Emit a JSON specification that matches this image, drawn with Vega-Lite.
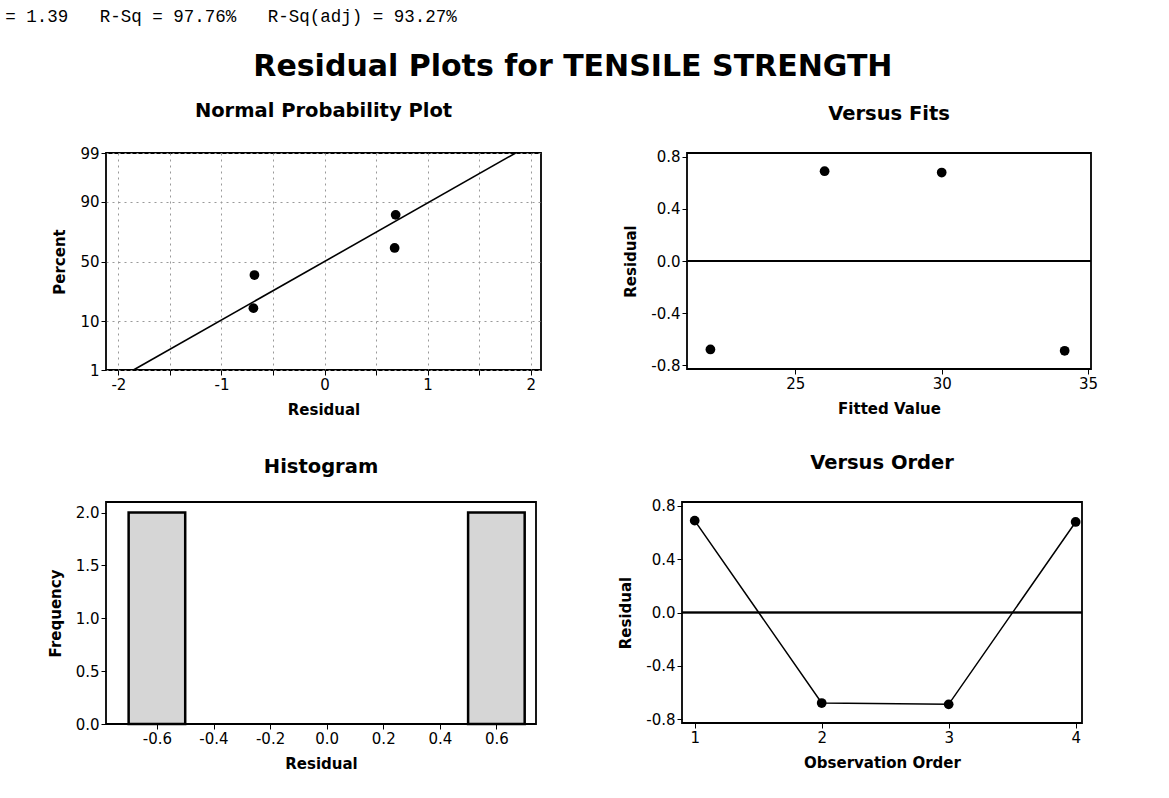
{
  "$schema": "https://vega.github.io/schema/vega-lite/v6.json",
  "background": "white",
  "padding": {"left": 5, "top": 8, "right": 5, "bottom": 5},
  "title": {
    "text": "= 1.39\u00a0\u00a0\u00a0R-Sq = 97.76%\u00a0\u00a0\u00a0R-Sq(adj) = 93.27%",
    "anchor": "start",
    "font": "Liberation Mono",
    "fontSize": 17.5,
    "fontWeight": "normal",
    "color": "black",
    "dx": -42,
    "offset": 26
  },
  "datasets": {
    "resid": [
      {"obs": 1, "fitted": 26.0, "residual": 0.69, "percent": 84.1, "z": 1.0},
      {"obs": 2, "fitted": 22.1, "residual": -0.68, "percent": 38.6, "z": -0.29},
      {"obs": 3, "fitted": 34.2, "residual": -0.69, "percent": 15.9, "z": -1.0},
      {"obs": 4, "fitted": 30.0, "residual": 0.68, "percent": 61.4, "z": 0.29}
    ],
    "fitline": [
      {"residual": -1.854, "z": -2.326},
      {"residual": 1.854, "z": 2.326}
    ],
    "hist": [
      {"bin_start": -0.7, "bin_end": -0.5, "frequency": 2},
      {"bin_start": 0.5, "bin_end": 0.7, "frequency": 2}
    ]
  },
  "vconcat": [
    {
      "title": {"text": "Residual Plots for TENSILE STRENGTH", "fontSize": 30, "fontWeight": "bold", "anchor": "middle", "color": "black", "offset": 18},
      "spacing": 34,
      "vconcat": [
        {
          "spacing": 80,
          "hconcat": [
            {
              "title": {"text": "Normal Probability Plot", "frame": "group", "offset": 25},
              "width": 435,
              "height": 217,
              "layer": [
                {
                  "data": {"name": "fitline"},
                  "mark": {"type": "line", "color": "black", "strokeWidth": 1.6},
                  "encoding": {
                    "x": {"field": "residual", "type": "quantitative", "scale": {"domain": [-2.12, 2.1], "nice": false, "zero": false},
                      "axis": {"title": "Residual", "values": [-2, -1.5, -1, -0.5, 0, 0.5, 1, 1.5, 2], "labelExpr": "datum.value % 1 == 0 ? replace(format(datum.value, 'd'), '\u2212', '-') : ''", "grid": true, "gridDash": [2, 4], "gridColor": "#999", "gridWidth": 1}},
                    "y": {"field": "z", "type": "quantitative", "scale": {"domain": [-2.326, 2.326], "nice": false, "zero": false},
                      "axis": {"title": "Percent", "values": [-2.326, -1.2816, 0, 1.2816, 2.326], "labelExpr": "datum.value < -2 ? '1' : datum.value < -1 ? '10' : datum.value < 1 ? '50' : datum.value < 2 ? '90' : '99'", "grid": true, "gridDash": [2, 4], "gridColor": "#999", "gridWidth": 1}}
                  }
                },
                {
                  "data": {"name": "resid"},
                  "mark": {"type": "point", "filled": true, "color": "black", "size": 95, "opacity": 1},
                  "encoding": {
                    "x": {"field": "residual", "type": "quantitative"},
                    "y": {"field": "z", "type": "quantitative"}
                  }
                }
              ]
            },
            {
              "title": {"text": "Versus Fits", "frame": "group", "offset": 25},
              "width": 404,
              "height": 216,
              "data": {"name": "resid"},
              "layer": [
                {
                  "mark": {"type": "rule", "color": "black", "strokeWidth": 1.5},
                  "encoding": {"y": {"datum": 0, "type": "quantitative"}}
                },
                {
                  "mark": {"type": "point", "filled": true, "color": "black", "size": 95, "opacity": 1},
                  "encoding": {
                    "x": {"field": "fitted", "type": "quantitative", "scale": {"domain": [21.3, 35.1], "nice": false, "zero": false},
                      "axis": {"title": "Fitted Value", "values": [25, 30, 35]}},
                    "y": {"field": "residual", "type": "quantitative", "scale": {"domain": [-0.83, 0.83], "nice": false},
                      "axis": {"title": "Residual", "values": [-0.8, -0.4, 0, 0.4, 0.8], "labelExpr": "replace(format(datum.value, '.1f'), '\u2212', '-')"}}
                  }
                }
              ]
            }
          ]
        },
        {
          "spacing": 80,
          "hconcat": [
            {
              "title": {"text": "Histogram", "frame": "group", "offset": 25},
              "width": 430,
              "height": 222,
              "data": {"name": "hist"},
              "mark": {"type": "bar", "fill": "#d6d6d6", "stroke": "black", "strokeWidth": 2.5},
              "encoding": {
                "x": {"field": "bin_start", "type": "quantitative", "scale": {"domain": [-0.78, 0.74], "nice": false, "zero": false},
                  "axis": {"title": "Residual", "values": [-0.6, -0.4, -0.2, 0, 0.2, 0.4, 0.6], "labelExpr": "replace(format(datum.value, '.1f'), '\u2212', '-')"}},
                "x2": {"field": "bin_end"},
                "y": {"field": "frequency", "type": "quantitative", "scale": {"domain": [0, 2.1], "nice": false},
                  "axis": {"title": "Frequency", "values": [0, 0.5, 1, 1.5, 2], "format": ".1f"}},
                "y2": {"datum": 0}
              }
            },
            {
              "title": {"text": "Versus Order", "frame": "group", "offset": 25},
              "width": 400,
              "height": 221,
              "data": {"name": "resid"},
              "layer": [
                {
                  "mark": {"type": "rule", "color": "black", "strokeWidth": 1.5},
                  "encoding": {"y": {"datum": 0, "type": "quantitative"}}
                },
                {
                  "mark": {"type": "line", "color": "black", "strokeWidth": 1.5, "point": {"filled": true, "color": "black", "size": 95, "opacity": 1}},
                  "encoding": {
                    "x": {"field": "obs", "type": "quantitative", "scale": {"domain": [0.9, 4.05], "nice": false, "zero": false},
                      "axis": {"title": "Observation Order", "values": [1, 2, 3, 4], "format": "d"}},
                    "y": {"field": "residual", "type": "quantitative", "scale": {"domain": [-0.83, 0.83], "nice": false},
                      "axis": {"title": "Residual", "values": [-0.8, -0.4, 0, 0.4, 0.8], "labelExpr": "replace(format(datum.value, '.1f'), '\u2212', '-')"}}
                  }
                }
              ]
            }
          ]
        }
      ]
    }
  ],
  "config": {
    "font": "DejaVu Sans",
    "view": {"stroke": "black", "strokeWidth": 1.8},
    "title": {"fontSize": 19.5, "fontWeight": "bold", "color": "black", "anchor": "middle"},
    "axis": {
      "domain": false,
      "grid": false,
      "ticks": true,
      "tickColor": "black",
      "tickSize": 5,
      "labelFontSize": 15,
      "labelColor": "black",
      "labelPadding": 2,
      "titleFontSize": 15,
      "titleFontWeight": "bold",
      "titleColor": "black"
    },
    "axisX": {"titlePadding": 10},
    "axisY": {"titlePadding": 12}
  }
}
